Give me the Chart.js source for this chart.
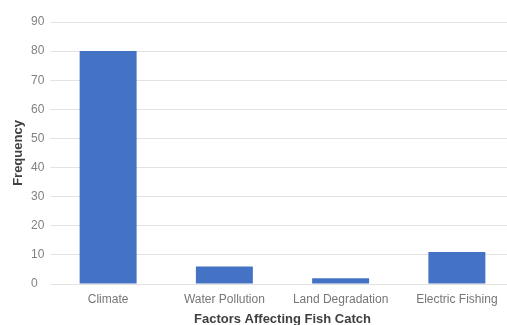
<!DOCTYPE html>
<html>
<head>
<meta charset="utf-8">
<script src="https://cdn.jsdelivr.net/npm/chart.js@4.4.0/dist/chart.umd.min.js"></script>
<style>
  html, body { margin: 0; padding: 0; background: #ffffff; overflow: hidden; }
  #wrap { width: 515px; height: 325px; }
</style>
</head>
<body>
<div id="wrap"><canvas id="chart" width="515" height="325"></canvas></div>
<script>
const categories = ['Climate', 'Water Pollution', 'Land Degradation', 'Electric Fishing'];
const frequencies = [80, 6, 2, 11];
const yMin = 0;
const yMax = 90;
const yStep = 10;

const labelFont = { family: 'Liberation Sans, Arial, sans-serif', size: 12 };
const titleFont = { family: 'Liberation Sans, Arial, sans-serif', size: 13, weight: 'bold' };

new Chart(document.getElementById('chart'), {
  type: 'bar',
  data: {
    labels: categories,
    datasets: [{
      label: 'Frequency',
      data: frequencies,
      backgroundColor: '#4472C4',
      borderWidth: 0,
      barPercentage: 0.49,
      categoryPercentage: 1.0
    }]
  },
  options: {
    responsive: false,
    animation: false,
    // left padding puts the left-aligned value labels at x = 31
    layout: { padding: { top: 22, right: 0, bottom: 0, left: 31 } },
    plugins: {
      legend: { display: false },
      tooltip: { enabled: false }
    },
    scales: {
      x: {
        grid: { display: false, drawTicks: false },
        border: { display: false },
        ticks: { color: '#767676', font: labelFont, padding: 8 },
        title: {
          display: true,
          text: 'Factors Affecting Fish Catch',
          color: '#404040',
          font: titleFont,
          padding: { top: 2, bottom: -2 }
        },
        afterFit: (scale) => { scale.height = 41; }
      },
      y: {
        min: yMin,
        max: yMax,
        ticks: { stepSize: yStep, color: '#808080', font: labelFont, crossAlign: 'far' },
        grid: { color: '#e3e3e3', lineWidth: 1, drawTicks: false },
        border: { display: false },
        title: {
          display: true,
          text: 'Frequency',
          color: '#404040',
          font: titleFont,
          // pulls the rotated title out to the left of the value labels
          padding: { top: -20, bottom: 0 }
        },
        afterFit: (scale) => { scale.width = 19; }
      }
    }
  }
});
</script>
</body>
</html>
